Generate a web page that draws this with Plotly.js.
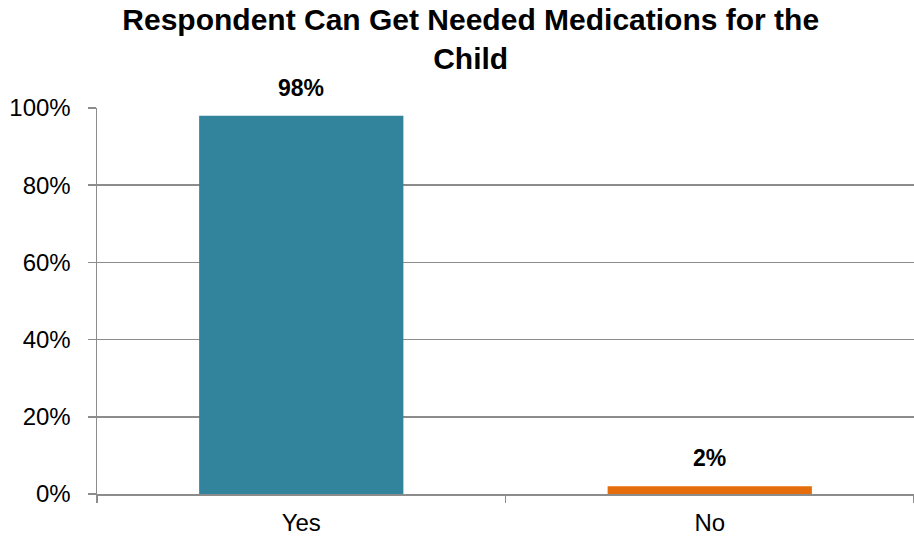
<!DOCTYPE html>
<html>
<head>
<meta charset="utf-8">
<script src="https://cdn.plot.ly/plotly-3.0.1.min.js"></script>
<style>html,body{margin:0;padding:0;background:#fff;}#chart{width:914px;height:544px;}</style>
</head>
<body>
<div id="chart"></div>
<script>
const categories = ["Yes", "No"];
const values = [0.98, 0.02];
const labels = ["98%", "2%"];
const barColors = ["#31849B", "#E46C0A"];
const yTickVals = [0, 0.2, 0.4, 0.6, 0.8, 1.0];
const yTickText = ["0%", "20%", "40%", "60%", "80%", "100%"];

const trace = {
  type: "bar",
  x: categories,
  y: values,
  width: 0.5,
  marker: { color: barColors, line: { width: 0 } },
  hoverinfo: "none"
};

const annotations = categories.map((c, i) => ({
  x: c, y: values[i], xref: "x", yref: "y",
  text: labels[i], showarrow: false,
  yanchor: "bottom", yshift: 13,
  font: { family: "Liberation Sans, Arial, sans-serif", size: 23, color: "#000", weight: "bold" }
}));

const layout = {
  width: 914, height: 544,
  margin: { l: 97, r: 0, t: 108, b: 50 },
  paper_bgcolor: "#fff", plot_bgcolor: "#fff",
  showlegend: false,
  title: {
    text: "<b>Respondent Can Get Needed Medications for the<br>Child</b>",
    font: { family: "Liberation Sans, Arial, sans-serif", size: 30, color: "#000" },
    x: 0.515, xref: "container", xanchor: "center",
    y: 0.945, yref: "container", yanchor: "top"
  },
  xaxis: {
    type: "category", range: [-0.5, 1.5],
    showgrid: false, showline: true, linecolor: "#8c8c8c", linewidth: 1.5,
    ticks: "outside", tickson: "boundaries", ticklen: 7, tickcolor: "#8c8c8c", tickwidth: 1.5,
    tickfont: { family: "Liberation Sans, Arial, sans-serif", size: 24, color: "#000" },
    ticklabelstandoff: 7, fixedrange: true
  },
  yaxis: {
    range: [0, 1.0], tickvals: yTickVals, ticktext: yTickText,
    showgrid: true, gridcolor: "#8c8c8c", gridwidth: 1.5,
    showline: true, linecolor: "#8c8c8c", linewidth: 1.5,
    ticks: "outside", ticklen: 8, tickcolor: "#8c8c8c", tickwidth: 1.5,
    tickfont: { family: "Liberation Sans, Arial, sans-serif", size: 24, color: "#000" },
    ticklabelstandoff: 12, zeroline: false, fixedrange: true
  },
  annotations: annotations
};

Plotly.newPlot("chart", [trace], layout, { displayModeBar: false, staticPlot: true });
</script>
</body>
</html>
